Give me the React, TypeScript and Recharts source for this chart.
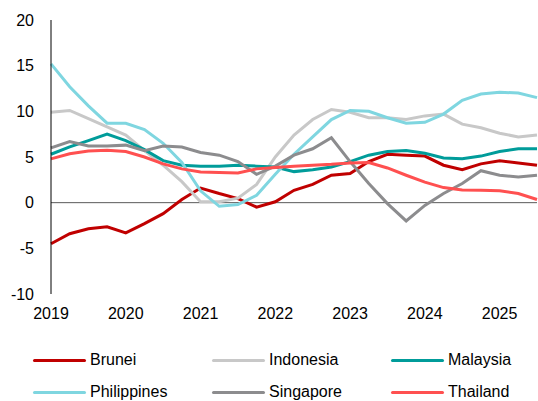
import React from "react"
import { LineChart, Line, XAxis, YAxis, ReferenceLine } from "recharts"

// quarterly, 2019Q1 .. 2025Q3
const quarters = [
  "2019Q1", "2019Q2", "2019Q3", "2019Q4",
  "2020Q1", "2020Q2", "2020Q3", "2020Q4",
  "2021Q1", "2021Q2", "2021Q3", "2021Q4",
  "2022Q1", "2022Q2", "2022Q3", "2022Q4",
  "2023Q1", "2023Q2", "2023Q3", "2023Q4",
  "2024Q1", "2024Q2", "2024Q3", "2024Q4",
  "2025Q1", "2025Q2", "2025Q3",
]
const yearTicks = ["2019Q1", "2020Q1", "2021Q1", "2022Q1", "2023Q1", "2024Q1", "2025Q1"]
const yTicks = [-10, -5, 0, 5, 10, 15, 20]

const brunei = [-4.5, -3.4, -2.85, -2.65, -3.3, -2.3, -1.2, 0.35, 1.6, 1.0, 0.45, -0.5, 0.1, 1.35, 2.0, 3.0, 3.2, 4.5, 5.3, 5.2, 5.1, 4.1, 3.6, 4.25, 4.6, 4.35, 4.1]
const indonesia = [9.9, 10.1, 9.2, 8.3, 7.4, 5.7, 4.1, 2.3, 0.1, 0.1, 0.5, 2.0, 5.0, 7.4, 9.1, 10.2, 9.9, 9.3, 9.3, 9.1, 9.5, 9.7, 8.6, 8.2, 7.6, 7.2, 7.4]
const malaysia = [5.3, 6.1, 6.8, 7.5, 6.8, 5.8, 4.6, 4.1, 4.0, 4.0, 4.1, 4.0, 3.9, 3.4, 3.6, 3.9, 4.5, 5.2, 5.6, 5.7, 5.4, 4.9, 4.8, 5.1, 5.6, 5.9, 5.9]
const philippines = [15.2, 12.7, 10.6, 8.7, 8.7, 8.0, 6.5, 4.4, 1.3, -0.4, -0.2, 0.8, 3.1, 5.3, 7.2, 9.1, 10.1, 10.0, 9.3, 8.7, 8.8, 9.7, 11.2, 11.9, 12.1, 12.0, 11.5]
const singapore = [6.0, 6.7, 6.2, 6.2, 6.3, 5.7, 6.2, 6.1, 5.5, 5.2, 4.5, 3.1, 4.0, 5.2, 5.9, 7.1, 4.5, 2.1, -0.1, -2.0, -0.3, 1.0, 2.1, 3.5, 3.0, 2.8, 3.0]
const thailand = [4.8, 5.35, 5.65, 5.75, 5.6, 5.0, 4.25, 3.7, 3.35, 3.3, 3.25, 3.7, 3.85, 4.0, 4.1, 4.2, 4.35, 4.4, 3.8, 3.0, 2.25, 1.65, 1.4, 1.35, 1.3, 1.0, 0.35]

const series = [
  { key: "Brunei", values: brunei, color: "#C00000" },
  { key: "Indonesia", values: indonesia, color: "#C8C8C8" },
  { key: "Malaysia", values: malaysia, color: "#009C9A" },
  { key: "Philippines", values: philippines, color: "#7FD6E0" },
  { key: "Singapore", values: singapore, color: "#8C8C8E" },
  { key: "Thailand", values: thailand, color: "#FF5050" },
]

const data = quarters.map((q, i) => {
  const row: Record<string, string | number> = { q }
  series.forEach((s) => {
    row[s.key] = s.values[i]
  })
  return row
})

const font = "'Liberation Sans', Arial, sans-serif"

export default function App() {
  return (
    <div style={{ position: "absolute", left: 0, top: 0, width: 538, height: 401, background: "#fff", fontFamily: font }}>
      <LineChart width={538} height={340} data={data} margin={{ top: 20, right: 1, bottom: 16, left: 0 }}>
        <XAxis
          dataKey="q"
          ticks={yearTicks}
          interval={0}
          tickFormatter={(v: string) => v.slice(0, 4)}
          axisLine={false}
          tickLine={false}
          tickMargin={8}
          height={30}
          tick={{ fontSize: 16, fill: "#000", fontFamily: font }}
        />
        <YAxis
          domain={[-10, 20]}
          ticks={yTicks}
          width={51}
          axisLine={{ stroke: "#000", strokeWidth: 1 }}
          tickLine={false}
          tickMargin={11}
          tick={{ fontSize: 16, fill: "#000", fontFamily: font }}
        />
        <ReferenceLine y={0} stroke="#595959" strokeWidth={1} />
        {series.map((s) => (
          <Line
            key={s.key}
            dataKey={s.key}
            stroke={s.color}
            strokeWidth={3}
            dot={false}
            type="linear"
            isAnimationActive={false}
          />
        ))}
      </LineChart>

      {/* legend, 3 columns x 2 rows */}
      {series.map((s, i) => {
        const col = i % 3
        const row = Math.floor(i / 3)
        return (
          <div
            key={s.key}
            style={{
              position: "absolute",
              left: 33 + col * 179,
              top: 360 + row * 32 - 10,
              height: 20,
              display: "flex",
              alignItems: "center",
              fontSize: 16,
              color: "#000",
            }}
          >
            <div style={{ width: 53, height: 3, background: s.color, borderRadius: 2, marginRight: 4 }} />
            <span>{s.key}</span>
          </div>
        )
      })}
    </div>
  )
}
